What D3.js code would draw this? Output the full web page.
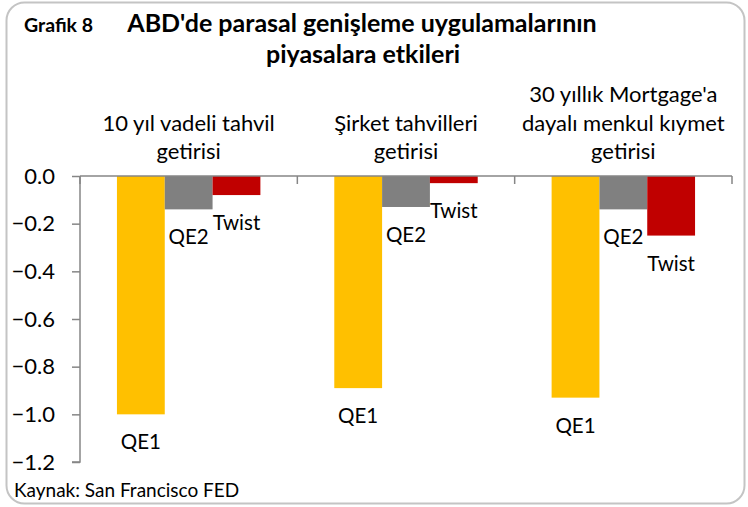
<!DOCTYPE html>
<html><head><meta charset="utf-8">
<script src="https://cdn.jsdelivr.net/npm/d3@7"></script>
<style>
html,body{margin:0;padding:0;background:#fff;}
svg{display:block;}
text{font-family:Lato,"Open Sans",sans-serif;fill:#000;}
</style></head>
<body>
<svg id="c" width="748" height="507"></svg>
<script>
const categories = [["10 yıl vadeli tahvil","getirisi"],["Şirket tahvilleri","getirisi"],["30 yıllık Mortgage'a","dayalı menkul kıymet","getirisi"]];
const series = ["QE1","QE2","Twist"];
const qe1 = [-1.00,-0.89,-0.93];
const qe2 = [-0.14,-0.13,-0.14];
const twist = [-0.08,-0.03,-0.25];
const yTicks = [0,-0.2,-0.4,-0.6,-0.8,-1.0,-1.2];
const colors = ["#FFC000","#808080","#C00000"];
const values = [qe1,qe2,twist];

const svg = d3.select("#c");
svg.append("rect").attr("x",6.5).attr("y",2.5).attr("width",738).attr("height",501)
  .attr("rx",18).attr("fill","#fff").attr("stroke","#c4c4c4").attr("stroke-width",2);

svg.append("text").attr("x",24).attr("y",32).attr("font-size",19.5).attr("font-weight","bold").text("Grafik 8");
svg.append("text").attr("x",362).attr("y",32).attr("text-anchor","middle").attr("font-size",25).attr("font-weight","bold").text("ABD'de parasal genişleme uygulamalarının");
svg.append("text").attr("x",363).attr("y",63).attr("text-anchor","middle").attr("font-size",25).attr("font-weight","bold").text("piyasalara etkileri");

const x0 = d3.scaleBand().domain(d3.range(categories.length)).range([80,732]).padding(0);
const bw = x0.bandwidth();
const x1 = d3.scaleBand().domain(series).range([bw*0.17,bw*0.83]).padding(0);
const y = d3.scaleLinear().domain([-1.2,0]).range([462,176]);

// bars
series.forEach((s,si)=>{
  values[si].forEach((v,ci)=>{
    const bx = x0(ci)+x1(s);
    svg.append("rect").attr("x",bx).attr("y",y(0)).attr("width",x1.bandwidth())
      .attr("height",y(v)-y(0)).attr("fill",colors[si]);
    svg.append("text").attr("x",bx+x1.bandwidth()/2).attr("y",y(v)+35)
      .attr("text-anchor","middle").attr("font-size",20.5).text(s);
  });
});

// y axis
const yAxis = d3.axisLeft(y).tickValues(yTicks).tickFormat(d3.format(".1f")).tickSize(8).tickPadding(17);
const ga = svg.append("g").attr("transform","translate(80,0)").call(yAxis);
ga.selectAll("path,line").attr("stroke","#868686").attr("stroke-width",1.5);
ga.selectAll("text").attr("font-size",22).attr("fill","#000").style("font-family","Lato,'Open Sans',sans-serif");
ga.select(".domain").attr("d","M0,176V462H-8");

// x axis at zero
const gx = svg.append("g");
gx.append("line").attr("x1",80).attr("x2",732).attr("y1",y(0)).attr("y2",y(0)).attr("stroke","#868686").attr("stroke-width",1.5);
d3.range(categories.length+1).forEach(i=>{
  const tx = i<categories.length ? x0(i) : x0(categories.length-1)+bw;
  gx.append("line").attr("x1",tx).attr("x2",tx).attr("y1",y(0)).attr("y2",y(0)+8).attr("stroke","#868686").attr("stroke-width",1.5);
});

// category labels
categories.forEach((lines,ci)=>{
  const cx = x0(ci)+bw/2;
  const n = lines.length;
  lines.forEach((l,li)=>{
    svg.append("text").attr("x",cx).attr("y",159-(n-1-li)*28.5).attr("text-anchor","middle").attr("font-size",22).text(l);
  });
});

svg.append("text").attr("x",14).attr("y",497).attr("font-size",19).text("Kaynak: San Francisco FED");
</script>
</body></html>
